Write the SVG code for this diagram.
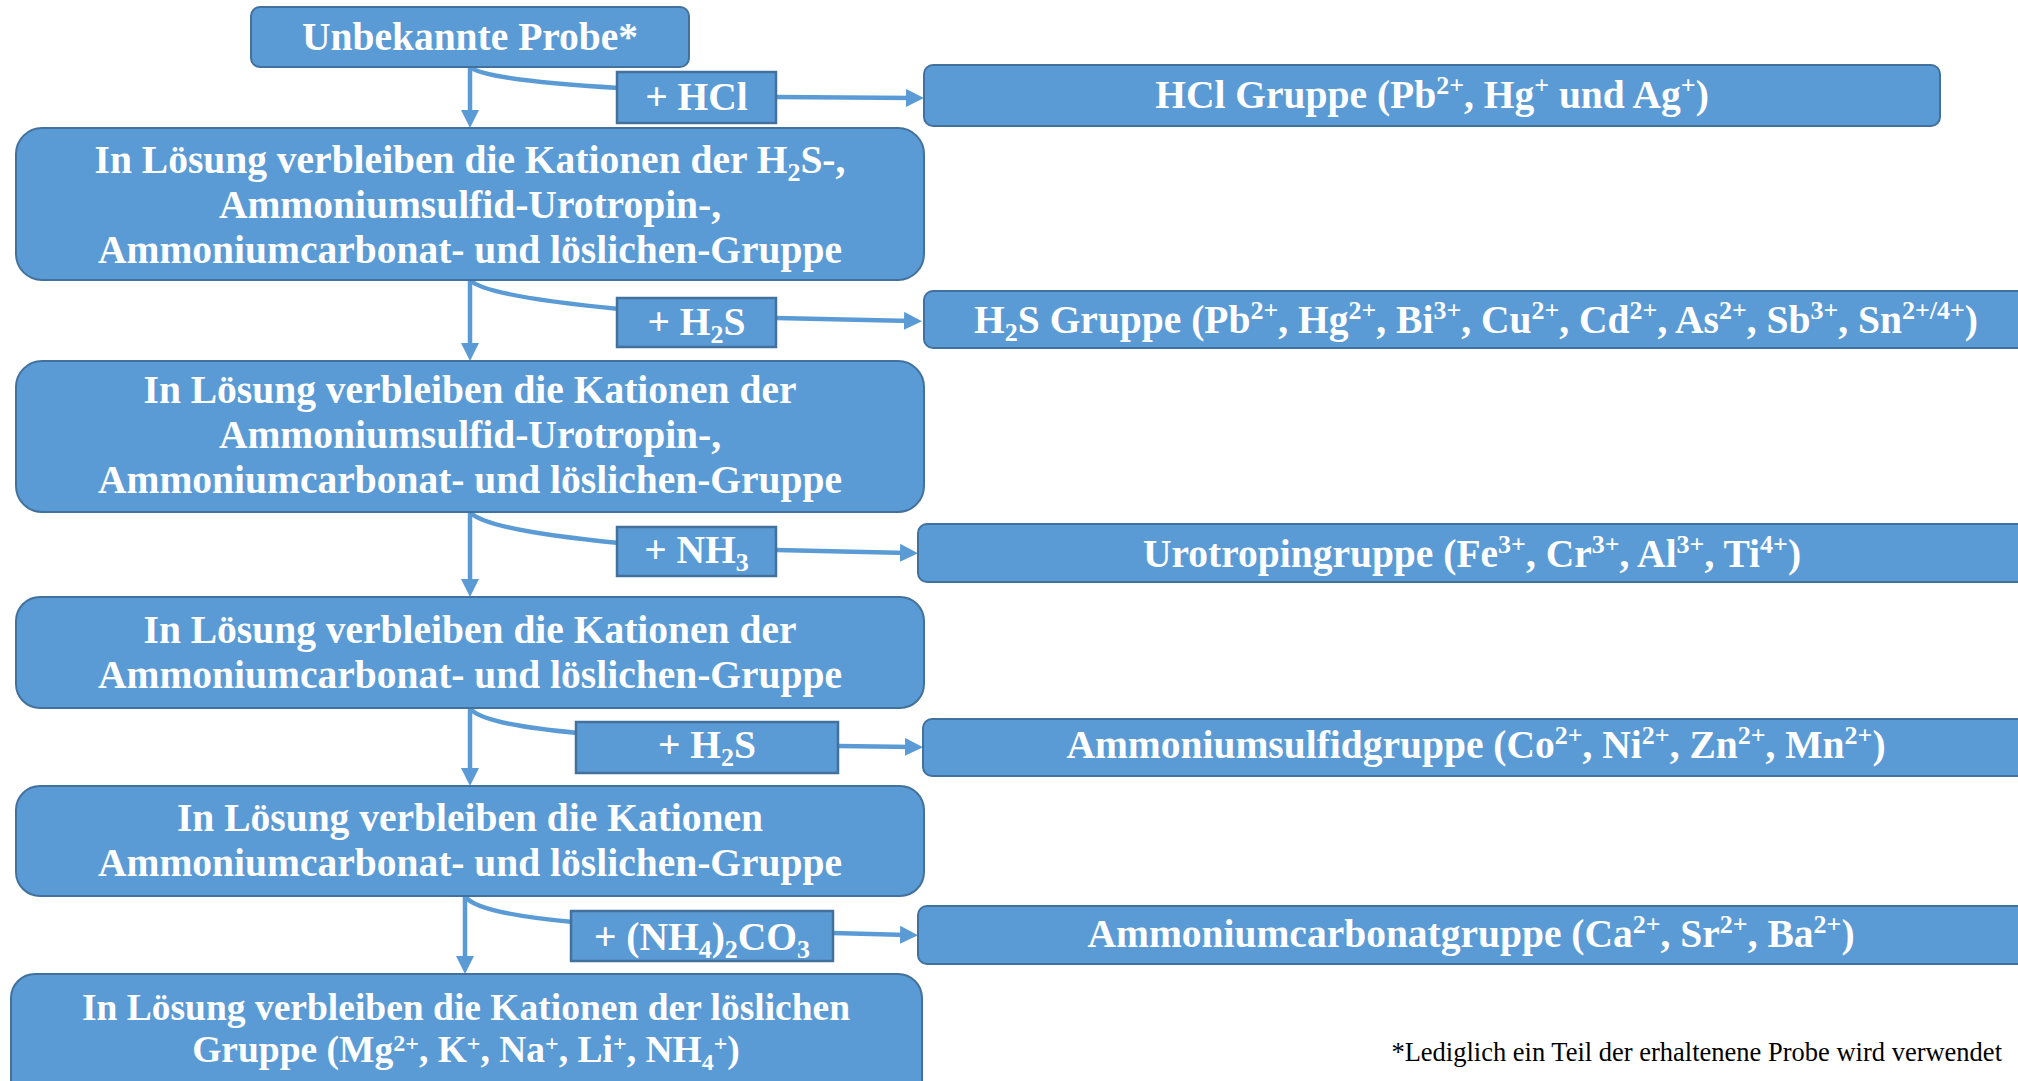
<svg xmlns="http://www.w3.org/2000/svg" width="2018" height="1081" viewBox="0 0 2018 1081">
<style>
.node{fill:#5B9BD5;stroke:#41719C;stroke-width:2}
.lbl{fill:#5B9BD5;stroke:#41719C;stroke-width:2.5}
.t{font-family:"Liberation Serif","Times New Roman",serif;font-weight:bold;font-size:39.5px;fill:#fff;text-anchor:middle}
.t5{font-size:37.5px}
.s{font-size:26px}
.s5{font-size:24px}
.conn{fill:none;stroke:#5B9BD5;stroke-width:4.5}
.foot{font-family:"Liberation Serif","Times New Roman",serif;font-size:26.5px;fill:#000;text-anchor:end}
</style>
<defs>
<marker id="ah" markerUnits="userSpaceOnUse" markerWidth="20" markerHeight="18" refX="8" refY="9" orient="auto"><path d="M0,0 L18,9 L0,18 z" fill="#5B9BD5"/></marker>
</defs>
<rect width="2018" height="1081" fill="#fff"/>
<g id="connectors">
<path class="conn" d="M470,67 V118" marker-end="url(#ah)"/>
<path class="conn" d="M470,67 Q485,80 619,88"/>
<path class="conn" d="M776,97 L914,98" marker-end="url(#ah)"/>
<path class="conn" d="M470,280 V351" marker-end="url(#ah)"/>
<path class="conn" d="M470,280 Q485,296 619,309"/>
<path class="conn" d="M776,318 L912,321" marker-end="url(#ah)"/>
<path class="conn" d="M470,512 Q485,530 619,543"/>
<path class="conn" d="M470,512 V587" marker-end="url(#ah)"/>
<path class="conn" d="M776,550 L908,553" marker-end="url(#ah)"/>
<path class="conn" d="M470,708 V776" marker-end="url(#ah)"/>
<path class="conn" d="M470,708 Q480,724 578,733"/>
<path class="conn" d="M838,746 L913,747" marker-end="url(#ah)"/>
<path class="conn" d="M465,896 V964" marker-end="url(#ah)"/>
<path class="conn" d="M465,896 Q475,913 573,922"/>
<path class="conn" d="M833,933 L908,935" marker-end="url(#ah)"/>
</g>
<g id="n0">
<rect class="node" x="251" y="7" width="438" height="60" rx="9"/>
<text class="t" x="470" y="50">Unbekannte Probe*</text>
</g>
<g id="n1">
<rect class="node" x="16" y="128" width="908" height="152" rx="26"/>
<text class="t" x="470" y="173">In Lösung verbleiben die Kationen der H<tspan class="s" dy="8">2</tspan><tspan dy="-8">S-,</tspan></text>
<text class="t" x="470" y="218">Ammoniumsulfid-Urotropin-,</text>
<text class="t" x="470" y="263">Ammoniumcarbonat- und löslichen-Gruppe</text>
</g>
<g id="n2">
<rect class="node" x="16" y="361" width="908" height="151" rx="26"/>
<text class="t" x="470" y="403">In Lösung verbleiben die Kationen der</text>
<text class="t" x="470" y="448">Ammoniumsulfid-Urotropin-,</text>
<text class="t" x="470" y="493">Ammoniumcarbonat- und löslichen-Gruppe</text>
</g>
<g id="n3">
<rect class="node" x="16" y="597" width="908" height="111" rx="24"/>
<text class="t" x="470" y="643">In Lösung verbleiben die Kationen der</text>
<text class="t" x="470" y="688">Ammoniumcarbonat- und löslichen-Gruppe</text>
</g>
<g id="n4">
<rect class="node" x="16" y="786" width="908" height="110" rx="24"/>
<text class="t" x="470" y="831">In Lösung verbleiben die Kationen</text>
<text class="t" x="470" y="876">Ammoniumcarbonat- und löslichen-Gruppe</text>
</g>
<g id="n5">
<rect class="node" x="11" y="974" width="911" height="140" rx="24"/>
<text class="t t5" x="466" y="1020">In Lösung verbleiben die Kationen der löslichen</text>
<text class="t t5" x="466" y="1062">Gruppe (Mg<tspan class="s5" dy="-11">2+</tspan><tspan dy="11">, K</tspan><tspan class="s5" dy="-11">+</tspan><tspan dy="11">, Na</tspan><tspan class="s5" dy="-11">+</tspan><tspan dy="11">, Li</tspan><tspan class="s5" dy="-11">+</tspan><tspan dy="11">, NH</tspan><tspan class="s5" dy="8">4</tspan><tspan class="s5" dy="-19">+</tspan><tspan dy="11">)</tspan></text>
</g>
<g id="l1">
<rect class="lbl" x="617" y="72" width="159" height="51"/>
<text class="t" x="696.5" y="110">+ HCl</text>
</g>
<g id="l2">
<rect class="lbl" x="617" y="298" width="159" height="49"/>
<text class="t" x="696.5" y="335">+ H<tspan class="s" dy="8">2</tspan><tspan dy="-8">S</tspan></text>
</g>
<g id="l3">
<rect class="lbl" x="617" y="527" width="159" height="49"/>
<text class="t" x="696.5" y="563">+ NH<tspan class="s" dy="8">3</tspan></text>
</g>
<g id="l4">
<rect class="lbl" x="576" y="722" width="262" height="51"/>
<text class="t" x="707" y="758">+ H<tspan class="s" dy="8">2</tspan><tspan dy="-8">S</tspan></text>
</g>
<g id="l5">
<rect class="lbl" x="571" y="911" width="262" height="50"/>
<text class="t" x="702" y="950">+ (NH<tspan class="s" dy="8">4</tspan><tspan dy="-8">)</tspan><tspan class="s" dy="8">2</tspan><tspan dy="-8">CO</tspan><tspan class="s" dy="8">3</tspan></text>
</g>
<g id="g1">
<rect class="node" x="924" y="65" width="1016" height="61" rx="9"/>
<text class="t" x="1432" y="108">HCl Gruppe (Pb<tspan class="s" dy="-14">2+</tspan><tspan dy="14">, Hg</tspan><tspan class="s" dy="-14">+</tspan><tspan dy="14"> und Ag</tspan><tspan class="s" dy="-14">+</tspan><tspan dy="14">)</tspan></text>
</g>
<g id="g2">
<rect class="node" x="924" y="291" width="1110" height="57" rx="9"/>
<text class="t" x="1476" y="333">H<tspan class="s" dy="8">2</tspan><tspan dy="-8">S Gruppe (Pb</tspan><tspan class="s" dy="-14">2+</tspan><tspan dy="14">, Hg</tspan><tspan class="s" dy="-14">2+</tspan><tspan dy="14">, Bi</tspan><tspan class="s" dy="-14">3+</tspan><tspan dy="14">, Cu</tspan><tspan class="s" dy="-14">2+</tspan><tspan dy="14">, Cd</tspan><tspan class="s" dy="-14">2+</tspan><tspan dy="14">, As</tspan><tspan class="s" dy="-14">2+</tspan><tspan dy="14">, Sb</tspan><tspan class="s" dy="-14">3+</tspan><tspan dy="14">, Sn</tspan><tspan class="s" dy="-14">2+/4+</tspan><tspan dy="14">)</tspan></text>
</g>
<g id="g3">
<rect class="node" x="918" y="524" width="1116" height="58" rx="9"/>
<text class="t" x="1472" y="567">Urotropingruppe (Fe<tspan class="s" dy="-14">3+</tspan><tspan dy="14">, Cr</tspan><tspan class="s" dy="-14">3+</tspan><tspan dy="14">, Al</tspan><tspan class="s" dy="-14">3+</tspan><tspan dy="14">, Ti</tspan><tspan class="s" dy="-14">4+</tspan><tspan dy="14">)</tspan></text>
</g>
<g id="g4">
<rect class="node" x="923" y="719" width="1111" height="57" rx="9"/>
<text class="t" x="1476" y="758">Ammoniumsulfidgruppe (Co<tspan class="s" dy="-14">2+</tspan><tspan dy="14">, Ni</tspan><tspan class="s" dy="-14">2+</tspan><tspan dy="14">, Zn</tspan><tspan class="s" dy="-14">2+</tspan><tspan dy="14">, Mn</tspan><tspan class="s" dy="-14">2+</tspan><tspan dy="14">)</tspan></text>
</g>
<g id="g5">
<rect class="node" x="918" y="906" width="1116" height="58" rx="9"/>
<text class="t" x="1471" y="947">Ammoniumcarbonatgruppe (Ca<tspan class="s" dy="-14">2+</tspan><tspan dy="14">, Sr</tspan><tspan class="s" dy="-14">2+</tspan><tspan dy="14">, Ba</tspan><tspan class="s" dy="-14">2+</tspan><tspan dy="14">)</tspan></text>
</g>
<text class="foot" x="2002" y="1061">*Lediglich ein Teil der erhaltenene Probe wird verwendet</text>
</svg>
